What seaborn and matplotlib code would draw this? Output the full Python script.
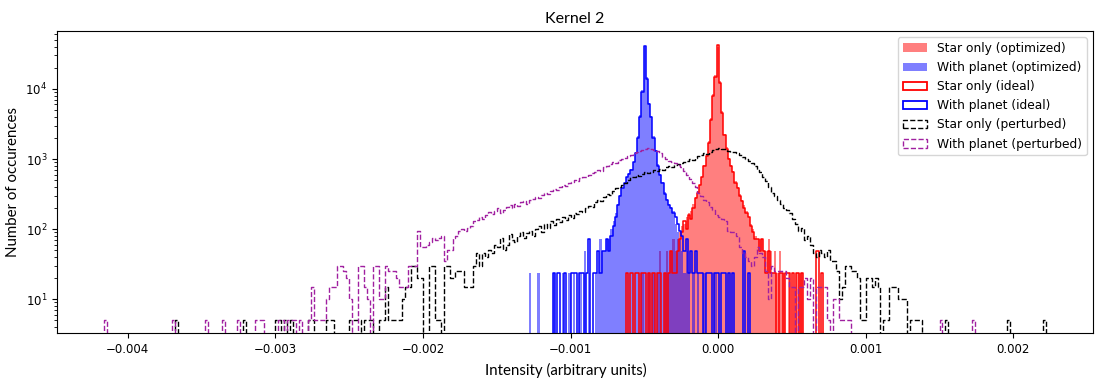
import numpy as np
import matplotlib
matplotlib.use("Agg")  # no display
import matplotlib.pyplot as plt
from matplotlib.patches import Patch
import seaborn as sns

# ── Bin grids ────────────────────────────────────────────────────────────────
PERT_START = -0.00418   # perturbed histograms (coarse bins)
PERT_WIDTH = 0.00002
FINE_START = -0.00130   # ideal / optimized histograms (fine bins)
FINE_WIDTH = 0.000015

# ── Counts per bin ───────────────────────────────────────────────────────────
star_perturbed = (
    [0] * 25 + [5] + [0] * 22 + [5] + [0] * 10
    + [5, 5, 0, 5, 0, 5] + [0] * 5 + [5, 5] + [0] * 4 + [5, 5, 5] + [0] * 5
    + [5, 5] + [5, 5, 0, 5, 5, 5, 0, 0] + [5, 5, 15, 5, 5, 5, 5, 5]
    + [10, 15, 15, 30, 30, 20, 20, 0, 0, 30, 30, 5, 5, 0, 30, 30, 20, 20,
       25, 25, 25, 15, 15, 15]
    + [30, 45, 30, 45, 40]
    + [50, 45, 60, 55, 75, 50, 60, 85, 70, 65, 80, 90, 75, 88]
    + [95, 80, 100, 110, 90, 120, 105, 130, 115, 140, 125, 150, 135, 160,
       145, 170, 165]
    + [180, 175, 200, 215, 210, 240, 260, 250, 290, 320, 310, 350, 380, 400,
       420, 460, 500, 560]
    + [560, 600, 580, 620, 650, 640, 660, 700, 680, 720, 700, 760, 790, 780,
       830, 860, 870, 920, 950, 1000, 980, 1050, 1100, 1150, 1200, 1180,
       1280, 1350, 1400]
    + [1430, 1380, 1400, 1320, 1250, 1280, 1200, 1150, 1080, 1000, 950, 870,
       800, 700, 650, 550, 480, 400, 330, 300, 260, 230, 200, 190, 168, 140,
       120, 95, 105, 70, 80]
    + [60, 45, 40, 50, 45, 40, 50, 35, 35, 25, 10, 15, 30, 30, 25, 25, 20, 5,
       5, 20, 20, 15, 20, 15, 0, 5, 5, 15, 15, 15, 10, 10, 10, 0, 5, 5, 5, 5, 0]
    + [0] * 7 + [5] + [0] * 20 + [5] + [0] * 11 + [5, 0]
)

planet_perturbed = (
    [0, 5] + [0] * 22 + [5] + [0] * 10 + [5] + [0] * 5 + [5] + [0] * 4 + [5]
    + [0] * 5 + [5, 5, 5] + [0] * 5
    + [5, 5, 0, 5, 5, 5, 0, 5, 0, 0]
    + [5, 15, 5, 5, 5, 5, 10, 15, 15, 15, 30, 30, 25, 20, 10, 0, 0, 30, 30,
       15, 10, 0, 30, 30, 10, 10, 30, 25, 25, 25, 20, 15, 15, 15, 30, 30, 30]
    + [95, 55, 55, 60, 65, 75, 70, 75, 80, 35, 50, 50, 75, 80, 95, 100, 95,
       105, 110, 130, 135, 150]
    + [140, 160, 175, 165, 180, 200, 170, 190, 210, 220, 200, 230, 215, 240,
       250, 230, 260]
    + [270, 290, 280, 310, 330, 320, 350, 370, 360, 400, 420, 410, 450, 470,
       500, 480, 530, 560, 550, 600, 630]
    + [650, 700, 680, 760, 800, 850, 900, 880, 960, 1000, 1050, 1100, 1150,
       1200, 1250, 1300, 1350, 1400]
    + [1430, 1380, 1350, 1300, 1200, 1070, 1000, 950, 900, 870, 820, 770, 680,
       600, 520, 450, 400, 330, 300, 260, 240, 210, 190, 160, 150, 140, 130,
       95, 90, 90, 80, 55, 45, 40, 35, 30, 40, 55, 45, 40, 25, 10, 30, 25, 25,
       25, 25, 20, 15, 15, 0, 15, 15, 20, 10, 20, 0, 15, 15, 15, 15, 5, 0, 10,
       10, 5, 5, 5, 5]
    + [0] * 30 + [5] + [0] * 10 + [5] + [0] * 25
)

star_ideal = (
    [0] * 45
    + [24, 0, 24, 0, 24, 24, 0, 24, 24, 0, 24, 0, 24, 0, 24, 24, 0, 24, 0, 24,
       48, 24, 24, 48]
    + [72, 90, 130, 100, 160, 140, 200, 280, 330, 420, 550, 800, 1100, 1700,
       3600, 8000, 15000, 42000]
    + [12000, 4500, 2200, 1400, 1000, 800, 650, 450, 380, 300, 250, 200, 170,
       150, 110, 90, 72, 72, 48, 72, 48, 24, 48, 24, 24, 24]
    + [0, 24, 24, 0, 24, 24, 0, 24, 0, 24, 0, 24, 0, 0, 0, 0, 0, 0, 48, 0, 24, 0]
)

planet_ideal = (
    [0] * 12
    + [24, 0, 24, 0, 0, 24, 0, 0, 24, 24, 24, 0, 24, 24, 0, 24, 72, 0, 24, 24,
       48, 24, 48, 48, 72, 48]
    + [80, 110, 150, 220, 300, 380, 450, 550, 620, 700, 900, 1200, 2000, 4000,
       9000, 41000]
    + [14000, 6000, 4000, 2000, 1300, 800, 600, 450, 320, 260, 220, 200, 170,
       150, 120, 95, 80, 48, 72]
    + [24, 48, 24, 48, 24, 24, 24, 0, 24, 24, 24, 0, 24, 24, 0, 24, 24, 0, 24,
       0, 24, 0, 0, 0, 0, 48, 0, 24]
    + [0] * 34
)

star_optimized = (
    [0] * 51
    + [0, 24, 0, 0, 24, 0, 24, 0, 24, 48, 0, 24, 48, 24, 48, 72, 48, 72]
    + [90, 110, 120, 150, 170, 180, 230, 290, 350, 430, 560, 820, 1150, 1800,
       3800, 8500, 16000, 40000]
    + [13000, 4800, 2300, 1500, 1050, 820, 680, 480, 400, 320, 260, 220, 180,
       150, 120, 100, 80, 72, 72, 72, 48, 48, 72, 48, 24, 48]
    + [24, 48, 24, 24, 0, 24, 0, 0, 0, 24, 24, 24] + [0] * 10
)

planet_optimized = (
    [0, 24, 0, 0, 0, 24, 0, 0, 0, 0, 0, 0, 24, 0, 0, 0, 24, 0, 0, 24, 0, 24,
     0, 0, 24, 0, 48, 0, 24, 0, 0, 24, 24, 72, 48, 48, 72, 72]
    + [100, 130, 170, 230, 310, 390, 460, 560, 640, 720, 920, 1250, 2100, 4200,
       9500, 40000]
    + [15000, 6200, 4100, 2100, 1350, 850, 620, 470, 340, 270, 230, 210, 180,
       120, 90, 72, 48, 24, 48]
    + [24, 0, 24, 0, 24, 0, 0, 24, 0, 0, 0, 0, 24, 0, 0, 0, 0, 0, 0, 0,
       0, 0, 0, 0, 0, 0, 0, 0]
    + [0] * 34
)

LABELS = ["Star only (optimized)", "With planet (optimized)",
          "Star only (ideal)", "With planet (ideal)",
          "Star only (perturbed)", "With planet (perturbed)"]
PURPLE = "#a020a0"


def draw_hist(ax, counts, start, width, **kw):
    counts = np.asarray(counts, dtype=float)
    edges = start + width * np.arange(len(counts) + 1)
    centers = edges[:-1] + width / 2
    sns.histplot(x=centers, weights=counts, bins=list(edges), element="step",
                 ax=ax, **kw)


fig = plt.figure(figsize=(11.04, 3.81), dpi=100)
ax = fig.add_axes([57 / 1104, 48 / 381, 1036 / 1104, 302 / 381])
ax.set_yscale("log")

# optimized (filled), ideal (outline), perturbed (dashed outline)
draw_hist(ax, star_optimized, FINE_START, FINE_WIDTH, fill=True,
          color="red", alpha=0.5, linewidth=0)
draw_hist(ax, planet_optimized, FINE_START, FINE_WIDTH, fill=True,
          color="blue", alpha=0.5, linewidth=0)
draw_hist(ax, star_ideal, FINE_START, FINE_WIDTH, fill=False,
          color="red", linewidth=1.1)
draw_hist(ax, planet_ideal, FINE_START, FINE_WIDTH, fill=False,
          color="blue", linewidth=1.1)
draw_hist(ax, star_perturbed, PERT_START, PERT_WIDTH, fill=False,
          color="black", linestyle="--", linewidth=1.0)
draw_hist(ax, planet_perturbed, PERT_START, PERT_WIDTH, fill=False,
          color=PURPLE, linestyle="--", linewidth=1.0)

ax.set_xlim(-0.00448, 0.00254)
ax.set_ylim(3.3, 6.7e4)
ax.set_xticks([-0.004, -0.003, -0.002, -0.001, 0.0, 0.001, 0.002])
ax.set_xticklabels(["\u22120.004", "\u22120.003", "\u22120.002", "\u22120.001",
                    "0.000", "0.001", "0.002"])
ax.tick_params(axis="both", labelsize=8.5)

label_font = dict(family="Lato", fontsize=10.8)
ax.set_title("Kernel 2", fontdict=dict(family="Lato", fontsize=11.5), pad=6)
ax.set_xlabel("Intensity (arbitrary units)", fontdict=label_font, labelpad=4)
ax.set_ylabel("Number of occurences", fontdict=label_font, labelpad=4)
ax.xaxis.set_label_coords((566 - 57) / 1036, -0.1)
ax.xaxis.label.set_va("top")

handles = [
    Patch(facecolor="red", alpha=0.5, edgecolor="none"),
    Patch(facecolor="blue", alpha=0.5, edgecolor="none"),
    Patch(facecolor="none", edgecolor="red", linewidth=1.3),
    Patch(facecolor="none", edgecolor="blue", linewidth=1.3),
    Patch(facecolor="none", edgecolor="black", linestyle="--", linewidth=1.0),
    Patch(facecolor="none", edgecolor=PURPLE, linestyle="--", linewidth=1.0),
]
ax.legend(handles, LABELS, loc="upper right", fontsize=8.8)

fig.savefig("out.png", dpi=100)
